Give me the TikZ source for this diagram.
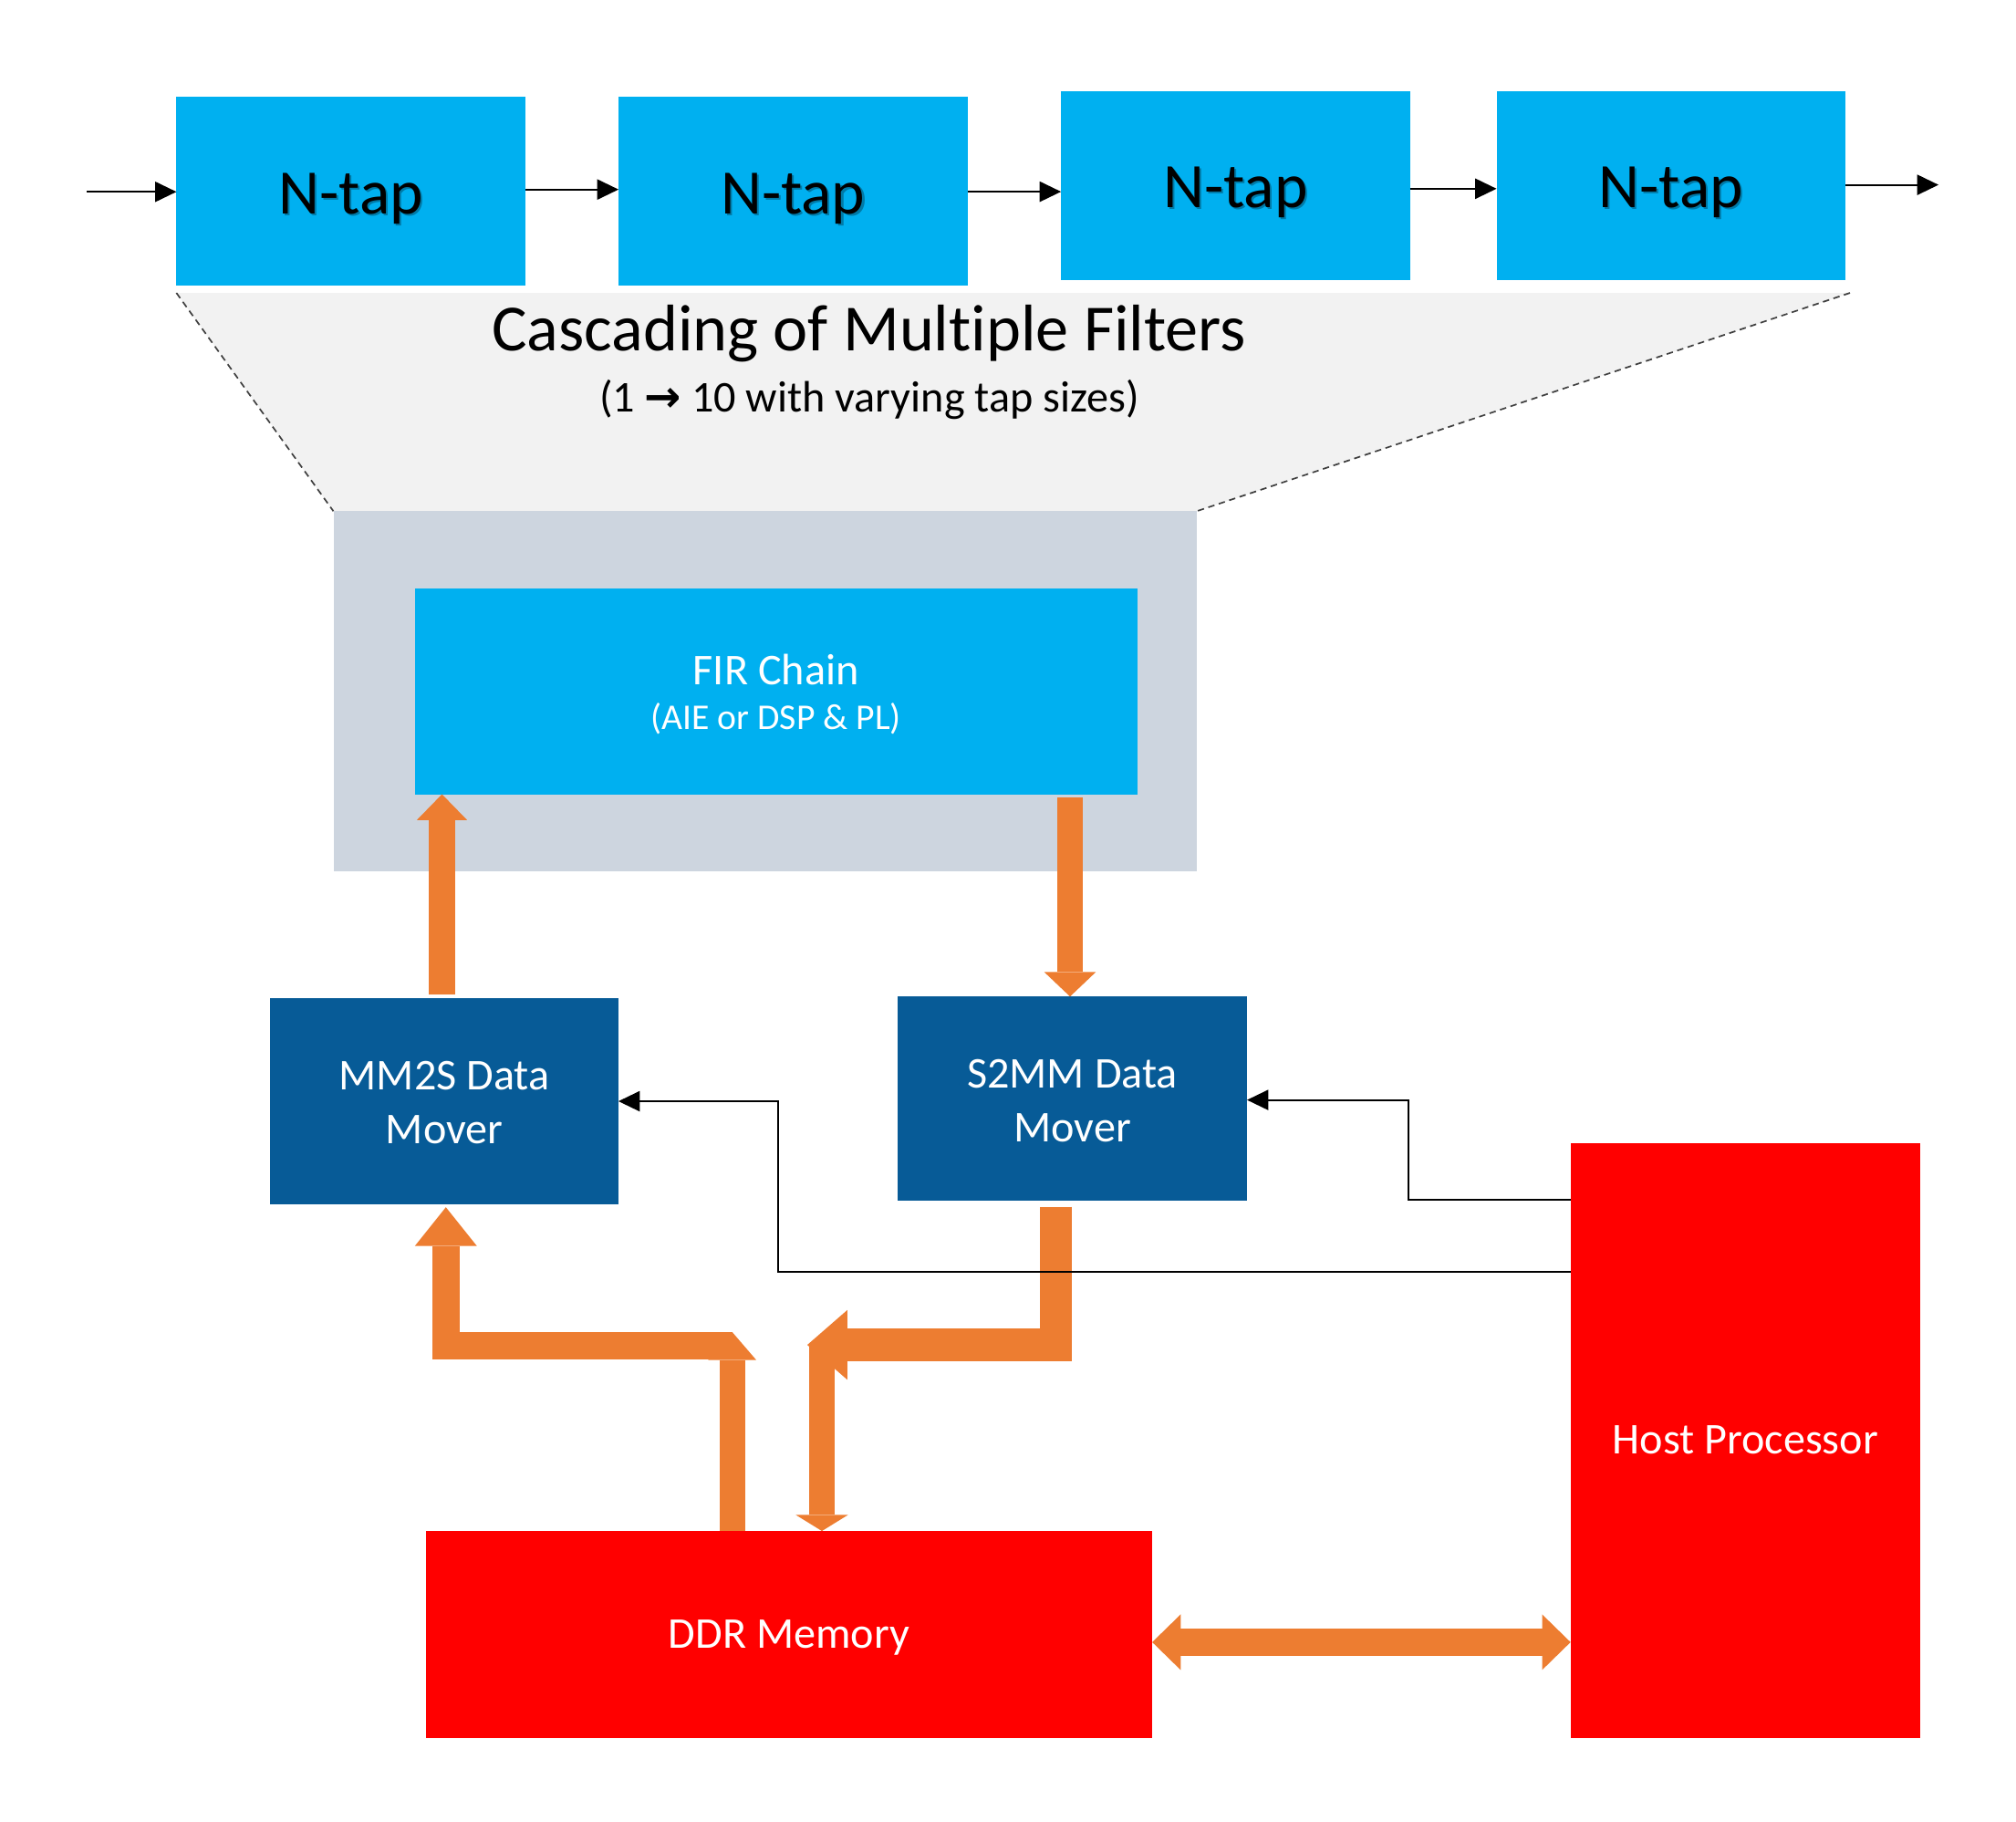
\documentclass[tikz,border=0pt]{standalone}
\usepackage{fontspec}
\setmainfont{Carlito}[Ligatures=NoCommon]
\newfontfamily\arrowfont{DejaVu Sans}
\usetikzlibrary{arrows.meta,calc}
\definecolor{cyanbox}{HTML}{00B0F0}
\definecolor{darkbox}{HTML}{075B97}
\definecolor{lavbox}{HTML}{CDD5DF}
\definecolor{graytrap}{HTML}{F2F2F2}
\definecolor{fatorange}{HTML}{ED7D31}
\definecolor{redbox}{HTML}{FF0000}
\definecolor{dashgray}{HTML}{404040}
\begin{document}
\begin{tikzpicture}[x=1pt,y=-1pt,
  box/.style={draw=none,inner sep=0pt,outer sep=0pt,anchor=north west},
  ntap/.style={anchor=base,inner sep=0pt,font=\fontsize{49}{59}\selectfont},
  intext/.style={anchor=base,inner sep=0pt,text=white,font=\fontsize{34}{41}\selectfont},
  smalltext/.style={anchor=base,inner sep=0pt,text=white,font=\fontsize{28}{34}\selectfont},
  fat/.style={draw=fatorange,line width=#1},
  thinarrow/.style={draw=black,line width=1.3pt,-{Triangle[length=16.5pt,width=16pt,line width=0pt]}},
  dashline/.style={draw=dashgray,line width=1.2pt,dash pattern=on 5pt off 3.5pt}
]
\useasboundingbox (0,0) rectangle (1560,1409);
\fill[white] (0,0) rectangle (1560,1409);

% trapezoid
\coordinate (tl) at (136.5,226.6);
\coordinate (tr) at (1431.5,226.6);
\node[box,fill=lavbox,minimum width=668pt,minimum height=278.5pt] (lav) at (258,395.5) {};
\fill[graytrap] (tl) -- (tr) -- (lav.north east) -- (lav.north west) -- cycle;
\draw[dashline] (tl) -- (lav.north west);
\draw[dashline] (tr) -- (lav.north east);
\node[box,fill=lavbox,minimum width=668pt,minimum height=278.5pt] (lav2) at (258,395.5) {};

% top filter boxes
\node[box,fill=cyanbox,minimum width=270pt,minimum height=146pt] (b1) at (136.5,75) {};
\node[box,fill=cyanbox,minimum width=270pt,minimum height=146pt] (b2) at (478.6,75) {};
\node[box,fill=cyanbox,minimum width=270pt,minimum height=146pt] (b3) at (821,70.5) {};
\node[box,fill=cyanbox,minimum width=270pt,minimum height=146pt] (b4) at (1158,70.5) {};

\node[ntap,text=black,opacity=0.3] (s1) at (273,166.8) {N-tap};
\node[ntap] (t1) at (271.5,165.3) {N-tap};
\node[ntap,text=black,opacity=0.3] (s2) at (615.1,166.8) {N-tap};
\node[ntap] (t2) at (613.6,165.3) {N-tap};
\node[ntap,text=black,opacity=0.3] (s3) at (957.5,162.3) {N-tap};
\node[ntap] (t3) at (956,160.8) {N-tap};
\node[ntap,text=black,opacity=0.3] (s4) at (1294.5,162.3) {N-tap};
\node[ntap] (t4) at (1293,160.8) {N-tap};

\coordinate (in) at (67,148.4);
\coordinate (out) at (1500,143);
\draw[thinarrow] (in) -- (b1.west |- in);
\draw[thinarrow] (b1.east |- 0,146.6) -- (b2.west |- 0,146.6);
\draw[thinarrow] (b2.east |- 0,148.3) -- (b3.west |- 0,148.3);
\draw[thinarrow] (b3.east |- 0,146) -- (b4.west |- 0,146);
\draw[thinarrow] (b4.east |- out) -- (out);

% titles
\node[anchor=base,inner sep=0pt,font=\fontsize{51}{61}\selectfont] (title) at (672.5,271.5) {Cascading of Multiple Filters};
\node[anchor=base,inner sep=0pt,font=\fontsize{34}{41}\selectfont] (sub) at (672.6,319) {(1 {\arrowfont\bfseries →} 10 with varying tap sizes)};

% FIR chain
\node[box,fill=cyanbox,minimum width=559pt,minimum height=159pt] (fir) at (321,455.5) {};
\node[intext] (firt) at (600.5,529.5) {FIR Chain};
\node[smalltext] (firs) at (600.5,564.5) {(AIE or DSP \& PL)};

% data movers
\node[box,fill=darkbox,minimum width=269.6pt,minimum height=159.5pt] (mm2s) at (209,772) {};
\node[intext] (mm2sa) at (343.8,843) {MM2S Data};
\node[intext] (mm2sb) at (343.8,884.6) {Mover};
\node[box,fill=darkbox,minimum width=270.4pt,minimum height=158pt] (s2mm) at (694.6,771) {};
\node[intext] (s2mma) at (829.8,842) {S2MM Data};
\node[intext] (s2mmb) at (829.8,883.6) {Mover};

% host and DDR
\node[box,fill=redbox,minimum width=270.7pt,minimum height=460.5pt] (host) at (1215.3,884.5) {};
\node[intext] (hostt) at (1350.5,1125) {Host Processor};
\node[box,fill=redbox,minimum width=562pt,minimum height=160pt] (ddr) at (329.6,1184.5) {};
\node[intext] (ddrt) at (610.5,1275.5) {DDR Memory};

% orange fat arrows
\draw[fat=20pt,-{Triangle[length=20pt,width=39pt,line width=0pt]}] (342,769.6) -- (342,0 |- fir.south);
\draw[fat=20pt,-{Triangle[length=19pt,width=40pt,line width=0pt]}] (828,617) -- (828,0 |- s2mm.north);
\draw[fat=19.5pt,-{Triangle[length=21.5pt,width=37pt,line width=0pt]}] (566.6,0 |- ddr.north) -- (566.6,1030.6);
\draw[fat=21.5pt,-{Triangle[length=30pt,width=48pt,line width=0pt]}] (566.6,1041.3) -- (345,1041.3) -- (345,934);
\draw[fat=25pt,-{Triangle[length=31pt,width=54pt,line width=0pt]}] (817,933.7) -- (817,1040.5) -- (624.7,1040.5);
\draw[fat=20pt,-{Triangle[length=12.5pt,width=40.5pt,line width=0pt]}] (636,1040) -- (636,0 |- ddr.north);
\draw[fat=21pt,{Triangle[length=22pt,width=43pt,line width=0pt]}-{Triangle[length=22pt,width=43pt,line width=0pt]}] (ddr.east |- 0,1270.5) -- (host.west |- 0,1270.5);

% control lines from host
\draw[thinarrow] (host.west |- 0,928) -- (1090,928) -- (1090,851) -- (s2mm.east |- 0,851);
\draw[thinarrow] (host.west |- 0,984) -- (602,984) -- (602,852) -- (mm2s.east |- 0,852);
\end{tikzpicture}
\end{document}
